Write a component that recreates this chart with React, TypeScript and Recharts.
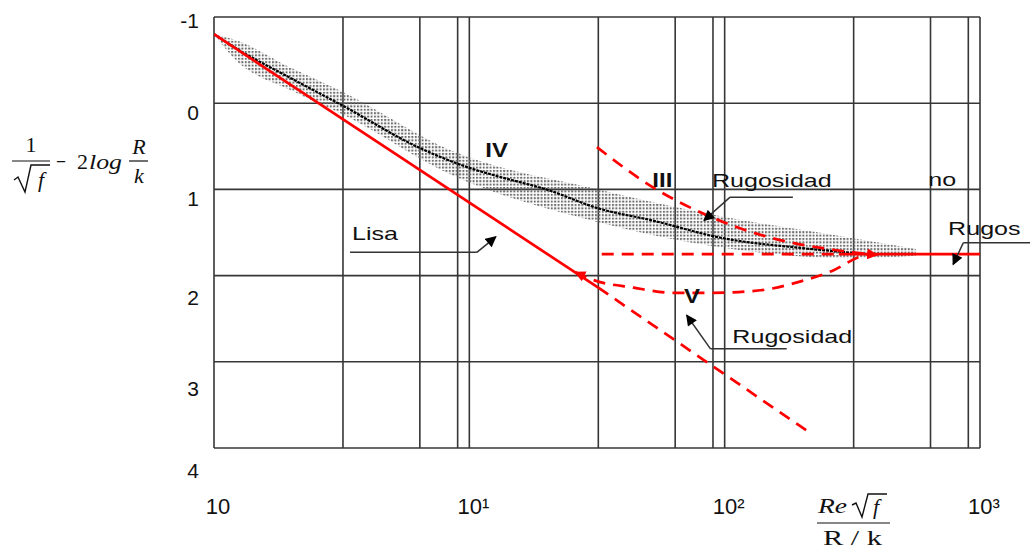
import React from "react";
import {
  ComposedChart,
  Line,
  Area,
  XAxis,
  YAxis,
  CartesianGrid,
  ReferenceLine,
  ReferenceDot,
} from "recharts";

type Pt = [number, number];

// grid positions on the log axis (as drawn in the original sheet)
const xGridTicks = [1, 3.2, 6.4, 9, 10, 32, 64, 90, 100, 320, 640, 900, 1000];
const xTickLabels: Record<number, string> = { 1: "10", 10: "10¹", 100: "10²", 1000: "10³" };
const yTicks = [-1, 0, 1, 2, 3, 4];
// labels on the original drift below their grid lines
const yLabelShift: Record<number, number> = { "-1": 3, 0: 9, 1: 9, 2: 22, 3: 27, 4: 22 };

// smooth pipe ("Lisa")
const lisaSolid: Pt[] = [[1, -0.8], [32, 2.14]];
const lisaDashed: Pt[] = [[32, 2.14], [210, 3.8]];

// zone IV, measured curve and its scatter band [x, low, high]
const curveIV: Pt[] = [
  [1, -0.8], [1.2, -0.65], [2, -0.29], [3.2, 0.03], [6.3, 0.51], [10, 0.75],
  [13, 0.85], [20, 1.0], [32, 1.22], [52, 1.36], [100, 1.57], [200, 1.68], [330, 1.74],
];
const bandIV: [number, number, number][] = [
  [1, -0.8, -0.8], [1.2, -0.74, -0.52], [2, -0.41, -0.15], [3.2, -0.13, 0.13],
  [8.5, 0.55, 0.83], [32, 1.0, 1.38], [100, 1.32, 1.68], [310, 1.56, 1.8], [560, 1.69, 1.77],
];

// zone III
const curveIII: Pt[] = [[31.6, 0.51], [52, 0.97], [90, 1.33], [147, 1.55], [266, 1.7], [395, 1.76]];
// zone V
const curveV: Pt[] = [
  [26, 1.96], [30.5, 2.05], [44, 2.14], [63, 2.2], [90, 2.2], [138, 2.17],
  [197, 2.07], [266, 1.94], [339, 1.78], [370, 1.75],
];
// fully rough ("Rugoso")
const roughDashed: Pt[] = [[33, 1.75], [280, 1.75]];
const roughSolid: Pt[] = [[280, 1.75], [1000, 1.75]];

const notes = [
  { text: "IV", x: 12.8, y: 0.54, bold: true, anchor: "middle" },
  { text: "III", x: 57, y: 0.89, bold: true, anchor: "middle" },
  { text: "Rugosidad", x: 153, y: 0.9, bold: false, anchor: "middle" },
  { text: "no", x: 711, y: 0.89, bold: false, anchor: "middle" },
  { text: "Rugos", x: 750, y: 1.45, bold: false, anchor: "start" },
  { text: "Lisa", x: 4.27, y: 1.51, bold: false, anchor: "middle" },
  { text: "V", x: 74.5, y: 2.24, bold: true, anchor: "middle" },
  { text: "Rugosidad", x: 184, y: 2.71, bold: false, anchor: "middle" },
];

// leader lines: [from, to, arrow at end]
const leaders: [Pt, Pt, boolean][] = [
  [[185, 1.09], [105, 1.09], false],
  [[105, 1.09], [83, 1.36], true],
  [[3.41, 1.73], [10.7, 1.73], false],
  [[10.7, 1.73], [12.7, 1.55], true],
  [[175, 2.85], [88, 2.85], false],
  [[88, 2.85], [71, 2.46], true],
  [[1600, 1.62], [860, 1.62], false],
  [[860, 1.62], [785, 1.87], true],
];

const rows = (pts: Pt[]) => pts.map(([x, y]) => ({ x, y }));
const bandRows = bandIV.map(([x, lo, hi]) => ({ x, range: [lo, hi] }));

const RED = "#ff0000";
const SANS = "'Liberation Sans', Arial, sans-serif";
const SERIF = "'Liberation Serif', 'Times New Roman', serif";

function XTick(props: any) {
  const { x, y, payload } = props;
  const label = xTickLabels[payload.value];
  if (!label) return <g />;
  return (
    <text x={x + 4} y={y + 64} textAnchor="middle" fontSize={22} fontFamily={SANS} fill="#111">
      {label}
    </text>
  );
}

function YTick(props: any) {
  const { x, y, payload } = props;
  return (
    <text
      x={x}
      y={y + (yLabelShift[payload.value] ?? 0)}
      textAnchor="end"
      dominantBaseline="central"
      fontSize={21}
      fontFamily={SANS}
      fill="#111"
    >
      {payload.value}
    </text>
  );
}

// the sheet's annotation text is wider than it is tall
function noteShape(text: string, bold: boolean, anchor: string) {
  return (props: any) => {
    const { cx, cy } = props;
    const sx = bold ? 1.2 : 1.32;
    return (
      <text
        transform={`translate(${cx},${cy}) scale(${sx},1)`}
        textAnchor={anchor}
        dominantBaseline="central"
        fontSize={bold ? 20 : 19}
        fontWeight={bold ? "bold" : "normal"}
        fontFamily={SANS}
        fill="#111"
      >
        {text}
      </text>
    );
  };
}

export default function App() {
  return (
    <div style={{ width: 1030, height: 551 }}>
      <style>{"body{margin:0}"}</style>
      <ComposedChart
        width={1030}
        height={551}
        margin={{ top: 17, right: 50, bottom: 0, left: 0 }}
      >
        <defs>
          <pattern id="stipple" width="3.4" height="3.4" patternUnits="userSpaceOnUse">
            <rect width="2" height="2" fill="#6e6e6e" />
          </pattern>
          <marker id="arrowBlack" viewBox="0 0 10 10" refX="9" refY="5" markerWidth="12" markerHeight="11"
            markerUnits="userSpaceOnUse" orient="auto">
            <path d="M0,0 L10,5 L0,10 z" fill="#000" />
          </marker>
          <marker id="arrowRed" viewBox="0 0 10 10" refX="9" refY="5" markerWidth="11" markerHeight="11"
            markerUnits="userSpaceOnUse" orient="auto-start-reverse">
            <path d="M0,0 L10,5 L0,10 z" fill={RED} />
          </marker>
        </defs>

        <CartesianGrid stroke="#363636" strokeWidth={1.6} />
        <XAxis
          dataKey="x"
          type="number"
          scale="log"
          domain={[1, 1000]}
          allowDataOverflow
          ticks={xGridTicks}
          interval={0}
          tick={<XTick />}
          tickLine={false}
          axisLine={false}
          tickSize={0}
          height={103}
        />
        <YAxis
          type="number"
          domain={[-1, 4]}
          reversed
          ticks={yTicks}
          interval={0}
          tick={<YTick />}
          tickLine={false}
          axisLine={false}
          tickSize={0}
          tickMargin={15}
          width={214}
        />

        <Area
          data={bandRows}
          dataKey="range"
          type="monotone"
          fill="url(#stipple)"
          fillOpacity={1}
          stroke="none"
          isAnimationActive={false}
        />
        <Line data={rows(curveIV)} dataKey="y" type="monotone" stroke="#000" strokeWidth={2.2}
          strokeDasharray="3 1" dot={false} isAnimationActive={false} />
        <Line data={rows(lisaSolid)} dataKey="y" type="linear" stroke={RED} strokeWidth={2.7}
          dot={false} isAnimationActive={false} />
        <Line data={rows(lisaDashed)} dataKey="y" type="linear" stroke={RED} strokeWidth={2.7}
          strokeDasharray="12 8" dot={false} isAnimationActive={false} />
        <Line data={rows(curveIII)} dataKey="y" type="monotone" stroke={RED} strokeWidth={2.7}
          strokeDasharray="12 8" dot={false} markerEnd="url(#arrowRed)" isAnimationActive={false} />
        <Line data={rows(curveV)} dataKey="y" type="monotone" stroke={RED} strokeWidth={2.7}
          strokeDasharray="12 8" dot={false} markerStart="url(#arrowRed)" isAnimationActive={false} />
        <Line data={rows(roughDashed)} dataKey="y" type="linear" stroke={RED} strokeWidth={2.7}
          strokeDasharray="12 8" dot={false} isAnimationActive={false} />
        <Line data={rows(roughSolid)} dataKey="y" type="linear" stroke={RED} strokeWidth={2.7}
          dot={false} isAnimationActive={false} />

        {leaders.map(([a, b, arrow], i) => (
          <ReferenceLine
            key={`leader-${i}`}
            segment={[{ x: a[0], y: a[1] }, { x: b[0], y: b[1] }]}
            stroke="#333"
            strokeWidth={1.5}
            ifOverflow="visible"
            markerEnd={arrow ? "url(#arrowBlack)" : undefined}
          />
        ))}

        {notes.map((n, i) => (
          <ReferenceDot
            key={`note-${i}`}
            x={n.x}
            y={n.y}
            r={1}
            ifOverflow="visible"
            shape={noteShape(n.text, n.bold, n.anchor)}
          />
        ))}

        {/* y axis title: 1/sqrt(f) - 2 log R/k */}
        <g fontFamily={SERIF} fill="#111" fontSize={22}>
          <text x={31} y={152} textAnchor="middle">1</text>
          <line x1={12} x2={50} y1={161} y2={161} stroke="#111" strokeWidth={1.2} />
          <path d="M14,180 L18,177 L25,192 L31,165 L50,165" fill="none" stroke="#111" strokeWidth={1.4} />
          <text x={41} y={187} textAnchor="middle" fontStyle="italic">f</text>
          <text x={56} y={169} textLength={10} lengthAdjust="spacingAndGlyphs">−</text>
          <text x={77} y={169}>2</text>
          <text x={89} y={169} fontStyle="italic" textLength={33} lengthAdjust="spacingAndGlyphs">log</text>
          <text x={139} y={154} textAnchor="middle" fontStyle="italic">R</text>
          <line x1={129} x2={148} y1={161} y2={161} stroke="#111" strokeWidth={1.2} />
          <text x={139} y={183} textAnchor="middle" fontStyle="italic">k</text>
        </g>

        {/* x axis title: Re sqrt(f) / (R / k) */}
        <g fontFamily={SERIF} fill="#111" fontSize={22}>
          <text x={818} y={513} fontStyle="italic" textLength={29} lengthAdjust="spacingAndGlyphs">Re</text>
          <path d="M852,505 L856,503 L862,517 L868,494 L887,494" fill="none" stroke="#111" strokeWidth={1.4} />
          <text x={876} y={514} textAnchor="middle" fontStyle="italic">f</text>
          <line x1={817} x2={890} y1={523} y2={523} stroke="#111" strokeWidth={1.2} />
          <text x={823} y={545} textLength={59} lengthAdjust="spacingAndGlyphs">R / k</text>
        </g>
      </ComposedChart>
    </div>
  );
}
